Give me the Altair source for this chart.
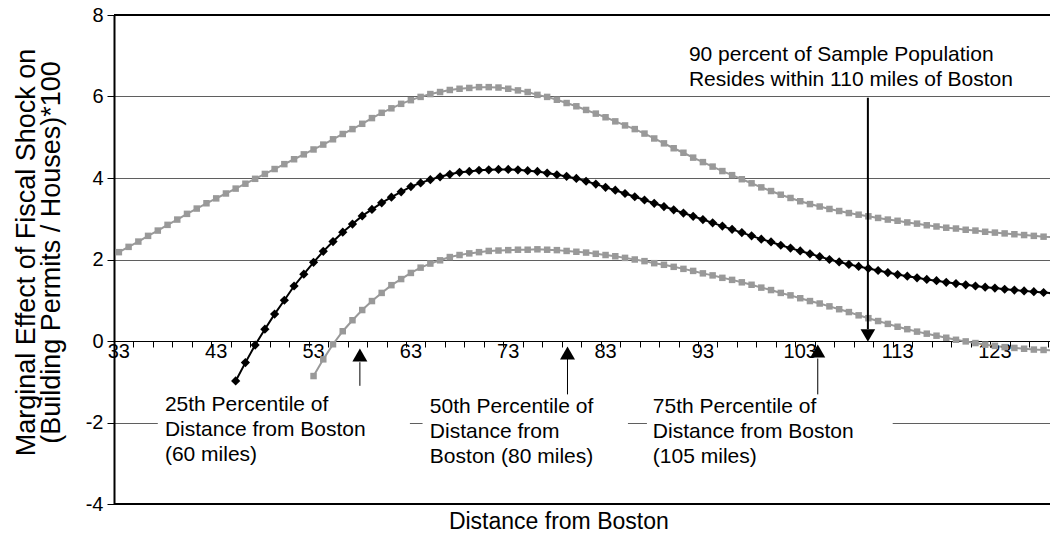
import altair as alt
import pandas as pd

FONT = "Liberation Sans"

# ---- data (distance in miles, effect x100) ----
black_start = 45
black_vals = [
    -0.98, -0.53, -0.10, 0.29, 0.66, 1.00, 1.35, 1.64, 1.93, 2.20,   # 45-54
    2.44, 2.67, 2.87, 3.07, 3.23, 3.39, 3.53, 3.66, 3.79, 3.88,      # 55-64
    3.96, 4.03, 4.09, 4.14, 4.16, 4.19, 4.20, 4.21, 4.21, 4.20,      # 65-74
    4.18, 4.16, 4.12, 4.08, 4.04, 3.99, 3.92, 3.85, 3.77, 3.70,      # 75-84
    3.62, 3.54, 3.46, 3.38, 3.30, 3.22, 3.14, 3.06, 2.98, 2.90,      # 85-94
    2.82, 2.74, 2.66, 2.58, 2.50, 2.43, 2.35, 2.28, 2.21, 2.14,      # 95-104
    2.07, 2.00, 1.94, 1.88, 1.83, 1.78, 1.73, 1.68, 1.63, 1.59,      # 105-114
    1.55, 1.51, 1.48, 1.44, 1.41, 1.38, 1.35, 1.32, 1.30, 1.27,      # 115-124
    1.25, 1.23, 1.21, 1.19, 1.17,                                    # 125-129
]

upper_start = 33
upper_vals = [
    2.18, 2.31, 2.44, 2.58, 2.71, 2.85, 2.98, 3.12, 3.25, 3.38,      # 33-42
    3.50, 3.62, 3.74, 3.86, 3.98, 4.10, 4.22, 4.34, 4.46, 4.58,      # 43-52
    4.70, 4.82, 4.95, 5.08, 5.20, 5.33, 5.47, 5.60, 5.71, 5.82,      # 53-62
    5.91, 5.99, 6.06, 6.11, 6.16, 6.19, 6.21, 6.23, 6.23, 6.22,      # 63-72
    6.19, 6.15, 6.11, 6.04, 5.99, 5.92, 5.84, 5.76, 5.67, 5.58,      # 73-82
    5.49, 5.39, 5.29, 5.20, 5.09, 4.97, 4.85, 4.73, 4.62, 4.50,      # 83-92
    4.39, 4.28, 4.17, 4.07, 3.97, 3.87, 3.77, 3.68, 3.59, 3.51,      # 93-102
    3.43, 3.36, 3.30, 3.24, 3.19, 3.14, 3.10, 3.06, 3.02, 2.98,      # 103-112
    2.95, 2.91, 2.88, 2.84, 2.81, 2.78, 2.76, 2.73, 2.71, 2.68,      # 113-122
    2.66, 2.64, 2.62, 2.60, 2.58, 2.56, 2.55,                        # 123-129
]

lower_start = 53
lower_vals = [
    -0.86, -0.45, -0.08, 0.24, 0.51, 0.76, 0.98, 1.18, 1.37, 1.52,   # 53-62
    1.67, 1.80, 1.90, 1.98, 2.06, 2.11, 2.15, 2.18, 2.21, 2.22,      # 63-72
    2.23, 2.24, 2.24, 2.25, 2.24, 2.23, 2.21, 2.19, 2.17, 2.14,      # 73-82
    2.11, 2.08, 2.04, 2.00, 1.96, 1.91, 1.87, 1.82, 1.77, 1.72,      # 83-92
    1.66, 1.61, 1.55, 1.50, 1.44, 1.38, 1.31, 1.25, 1.18, 1.12,      # 93-102
    1.05, 0.98, 0.92, 0.85, 0.78, 0.71, 0.63, 0.56, 0.49, 0.42,      # 103-112
    0.35, 0.29, 0.23, 0.18, 0.13, 0.08, 0.03, -0.01, -0.05, -0.09,   # 113-122
    -0.12, -0.15, -0.17, -0.19, -0.21, -0.22, -0.23,                 # 123-129
]

y_ticks = [-4, -2, 0, 2, 4, 6, 8]
x_labels = [33, 43, 53, 63, 73, 83, 93, 103, 113, 123]
y_title = ["Marginal Effect of Fiscal Shock on", "(Building Permits / Houses)*100"]
x_title = "Distance from Boston"

# annotation texts and their anchors (first line, in data units)
note_texts = [
    ["25th Percentile of", "Distance from Boston", "(60 miles)"],
    ["50th Percentile of", "Distance from", "Boston (80 miles)"],
    ["75th Percentile of", "Distance from Boston", "(105 miles)"],
    ["90 percent of Sample Population", "Resides within 110 miles of Boston"],
]
note_x = [37.73, 64.95, 87.86, 91.56]
note_y = [-1.57, -1.62, -1.61, 7.03]

box_x = [37.0, 64.2, 87.25]
box_x2 = [62.9, 85.3, 112.5]
box_y = [-1.36, -1.36, -1.36]
box_y2 = [-3.1, -3.1, -3.1]

up_arrow_x = [57.76, 79.09, 104.8]
up_arrow_top = [-0.52, -0.43, -0.43]
up_arrow_bottom = [-1.10, -1.31, -1.31]
up_arrow_head = [-0.344, -0.295, -0.245]

down_arrow_x = [109.95]
down_arrow_top = [5.97]
down_arrow_bottom = [0.29]
down_arrow_head = [0.135]

x_domain = [32.5, 128.66]
y_domain = [-4, 8]

# ---- tables ----
def series(start, vals, name):
    return pd.DataFrame({"dist": list(range(start, start + len(vals))),
                         "value": vals, "series": name})

df_black = series(black_start, black_vals, "estimate")
df_gray = pd.concat([series(upper_start, upper_vals, "upper"),
                     series(lower_start, lower_vals, "lower")])

df_notes = pd.DataFrame({"dist": note_x, "value": note_y, "text": note_texts})
df_boxes = pd.DataFrame({"dist": box_x, "dist2": box_x2, "value": box_y, "value2": box_y2})
df_up = pd.DataFrame({"dist": up_arrow_x, "value": up_arrow_top,
                      "value2": up_arrow_bottom, "head": up_arrow_head})
df_down = pd.DataFrame({"dist": down_arrow_x, "value": down_arrow_top,
                        "value2": down_arrow_bottom, "head": down_arrow_head})
df_border = pd.DataFrame({"value": [y_domain[1], y_domain[0]]})
df_xtitle = pd.DataFrame({"dist": [78.2], "value": [-4.44], "text": [x_title]})
df_xlab = pd.DataFrame({"dist": x_labels, "value": [0] * len(x_labels),
                        "text": [str(v) for v in x_labels]})

xs = alt.Scale(domain=x_domain, nice=False, zero=False, padding=0)
ys = alt.Scale(domain=y_domain, nice=False, zero=False)

tick_vals = [x_domain[0] + 2 * k for k in range(49)]

x_axis = alt.Axis(
    values=tick_vals, labels=False,
    offset=-163, tickSize=6, tickColor="black", tickWidth=1,
    domainColor="black", domainWidth=1, grid=False, title=None,
)
y_axis = alt.Axis(
    values=y_ticks, grid=True, gridColor="#5f5f5f", gridWidth=1,
    tickSize=7, tickColor="black", tickWidth=1,
    domainColor="black", domainWidth=2,
    labelExpr="'' + datum.value",
    labelFont=FONT, labelFontSize=20, labelColor="black", labelPadding=4,
    title=y_title, titleFont=FONT, titleFontSize=27, titleFontWeight="normal",
    titleColor="black", titleLineHeight=25, titleX=-74, titleY=237,
)

def X(f="dist:Q"):
    return alt.X(f, scale=xs, axis=x_axis)

def Y(f="value:Q"):
    return alt.Y(f, scale=ys, axis=y_axis)

gray_line = alt.Chart(df_gray).mark_line(color="#999999", strokeWidth=2, clip=True).encode(
    x=X(), y=Y(), detail="series:N")
gray_pts = alt.Chart(df_gray).mark_point(shape="square", filled=True, size=42,
                                         color="#999999", opacity=1, clip=True).encode(
    x=X(), y=Y())
black_line = alt.Chart(df_black).mark_line(color="black", strokeWidth=2, clip=True).encode(
    x=X(), y=Y())
black_pts = alt.Chart(df_black).mark_point(shape="diamond", filled=True, size=85,
                                           color="black", opacity=1, clip=True).encode(
    x=X(), y=Y())

boxes = alt.Chart(df_boxes).mark_rect(color="white").encode(
    x=X(), x2="dist2", y=Y(), y2="value2")
borders = alt.Chart(df_border).mark_rule(color="black", strokeWidth=2).encode(y=Y())

xlabels = alt.Chart(df_xlab).mark_text(align="center", baseline="middle", dy=11,
                                       font=FONT, fontSize=20, color="black").encode(
    x=X(), y=Y(), text="text")

up_shaft = alt.Chart(df_up).mark_rule(color="black", strokeWidth=1).encode(
    x=X(), y=Y(), y2="value2")
up_head = alt.Chart(df_up).mark_point(shape="triangle-up", filled=True, size=225,
                                      color="black", opacity=1).encode(
    x=X(), y=Y("head:Q"))
down_shaft = alt.Chart(df_down).mark_rule(color="black", strokeWidth=2).encode(
    x=X(), y=Y(), y2="value2")
down_head = alt.Chart(df_down).mark_point(shape="triangle-down", filled=True, size=215,
                                          color="black", opacity=1).encode(
    x=X(), y=Y("head:Q"))

notes = alt.Chart(df_notes).mark_text(align="left", baseline="middle", font=FONT,
                                      fontSize=21, lineHeight=25, color="black").encode(
    x=X(), y=Y(), text="text")
xtitle = alt.Chart(df_xtitle).mark_text(align="center", baseline="middle", font=FONT,
                                        fontSize=23, color="black").encode(
    x=X(), y=Y(), text="text")

chart = alt.layer(
    gray_line, boxes, borders, xlabels, gray_pts, black_line, black_pts,
    up_shaft, up_head, down_shaft, down_head, notes, xtitle,
).properties(
    width=936, height=489,
    autosize=alt.AutoSizeParams(type="none"),
    padding={"left": 106, "top": 7, "right": 0, "bottom": 38},
).configure_view(stroke=None).configure(background="white")

chart.save("out.html", embed_options={"renderer": "svg", "actions": False})
